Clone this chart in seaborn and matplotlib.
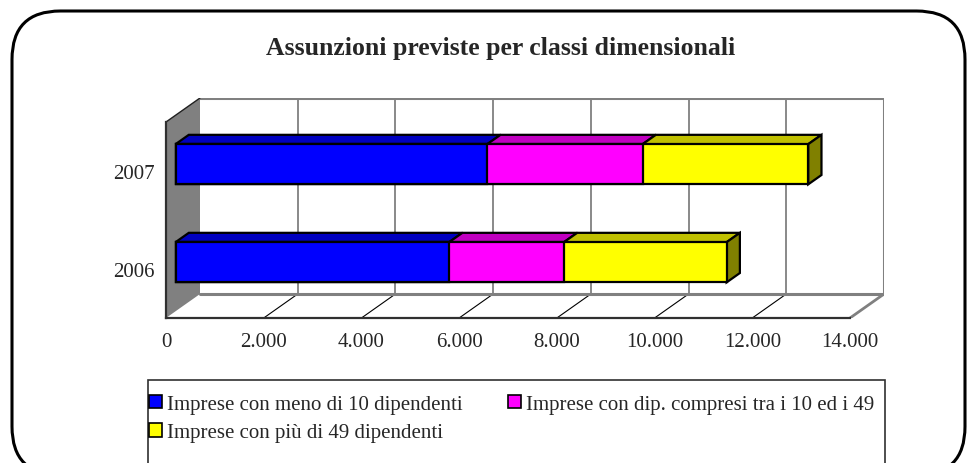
import numpy as np
import pandas as pd
import seaborn as sns
import matplotlib
matplotlib.use("Agg")
import matplotlib.pyplot as plt
from matplotlib.patches import Polygon, Rectangle, FancyBboxPatch, Patch
from matplotlib.transforms import ScaledTranslation

# ---------------- data ----------------
years = ["2007", "2006"]
series = ["Imprese con meno di 10 dipendenti",
          "Imprese con dip. compresi tra i 10 ed i 49",
          "Imprese con più di 49 dipendenti"]
small = [6380, 5600]
medium = [3180, 2350]
large = [3390, 3330]
xticks = [0, 2000, 4000, 6000, 8000, 10000, 12000, 14000]
xticklabels = ["0", "2.000", "4.000", "6.000", "8.000", "10.000", "12.000", "14.000"]
title = "Assunzioni previste per classi dimensionali"

front_colors = ["#0000FF", "#FF00FF", "#FFFF00"]
top_colors = ["#0000C0", "#C000C0", "#C0C000"]
side_color = "#808000"

sns.set_style("white")
plt.rcParams["font.family"] = ["Liberation Serif", "DejaVu Serif"]

W, H = 968, 464
fig = plt.figure(figsize=(W / 100, H / 100), dpi=100)


def fx(px):
    return px / W


def fy(py):
    return 1 - py / H


# outer rounded frame (behind everything)
frame = FancyBboxPatch((fx(12), fy(476)), fx(965) - fx(12), fy(12) - fy(476),
                       boxstyle="round,pad=0,rounding_size=0.05",
                       transform=fig.transFigure, facecolor="none",
                       edgecolor="black", linewidth=2.2, mutation_aspect=W / H,
                       zorder=-5)
fig.patches.append(frame)

# layout (pixels)
X0, X1 = 166, 850
YT, YB = 123, 319
DXP, DYP = 34, 24
xmax = 14000
px_per_x = (X1 - X0) / xmax
DX = DXP / px_per_x
cat_px = (YB - YT) / 2
DY = DYP / cat_px

ax = fig.add_axes([fx(X0), fy(YB), (X1 + DXP - X0) / W, (YB - (YT - DYP)) / H])
ax.patch.set_alpha(0)

# stacked bars (front faces) via seaborn, drawn as cumulative overlays
cum1 = np.array(small)
cum2 = cum1 + np.array(medium)
cum3 = cum2 + np.array(large)
df = pd.DataFrame({"year": years, "c1": cum1, "c2": cum2, "c3": cum3})

bar_w = 0.41
n_before = len(ax.patches)
for col, c in zip(["c3", "c2", "c1"], front_colors[::-1]):
    sns.barplot(data=df, x=col, y="year", orient="h", color=c, width=bar_w,
                edgecolor="black", linewidth=1.6, saturation=1, ax=ax, zorder=4)
bar_patches = ax.patches[n_before:]

ax.set_xlim(0, xmax + DX)
ax.set_ylim(1.5, -0.5 - DY)

# walls
gray = "#808080"
ax.add_patch(Polygon([(0, -0.5), (DX, -0.5 - DY), (DX, 1.5 - DY), (0, 1.5)],
                     closed=True, facecolor=gray, edgecolor="none", zorder=1))
ax.plot([0, DX], [-0.5, -0.5 - DY], color="#202020", lw=1.0, zorder=2)
ax.plot([DX, xmax + DX, xmax + DX], [-0.5 - DY, -0.5 - DY, 1.5 - DY],
        color=gray, lw=2.2, zorder=1.5, solid_capstyle="projecting")
ax.plot([DX, xmax + DX], [1.5 - DY, 1.5 - DY], color=gray, lw=2.2, zorder=1.5)
for t in xticks[1:-1]:
    ax.plot([t + DX, t + DX], [-0.5 - DY, 1.5 - DY], color=gray, lw=1.3, zorder=1.2)
for t in xticks[1:-1]:
    ax.plot([t, t + DX], [1.5, 1.5 - DY], color="black", lw=0.8, zorder=1.2)
ax.plot([xmax, xmax + DX], [1.5, 1.5 - DY], color=gray, lw=2.0, zorder=1.2)

# bar offset (bars sit inside the depth)
f_front = 0.28
f_depth = 0.39
off = ScaledTranslation(f_front * DXP / 100, f_front * DYP / 100, fig.dpi_scale_trans)
tr = ax.transData + off
for p in bar_patches:
    p.set_transform(tr)

bdx, bdy = f_depth * DX, f_depth * DY
starts = [np.zeros(2), cum1, cum2]
ends = [cum1, cum2, cum3]
for i in range(len(years)):
    ytop = i - bar_w / 2
    ybot = i + bar_w / 2
    for s in range(3):
        x0, x1 = starts[s][i], ends[s][i]
        ax.add_patch(Polygon([(x0, ytop), (x1, ytop), (x1 + bdx, ytop - bdy), (x0 + bdx, ytop - bdy)],
                             closed=True, facecolor=top_colors[s], edgecolor="black",
                             linewidth=1.6, joinstyle="miter", transform=tr, zorder=3.5))
    x1 = cum3[i]
    ax.add_patch(Polygon([(x1, ytop), (x1, ybot), (x1 + bdx, ybot - bdy), (x1 + bdx, ytop - bdy)],
                         closed=True, facecolor=side_color, edgecolor="black",
                         linewidth=1.6, joinstyle="miter", transform=tr, zorder=3.5))

# axes lines and ticks
for s in ["top", "right"]:
    ax.spines[s].set_visible(False)
ax.spines["bottom"].set_bounds(0, xmax)
ax.spines["left"].set_bounds(-0.5, 1.5)
for s in ["bottom", "left"]:
    ax.spines[s].set_color("#303030")
    ax.spines[s].set_linewidth(1.6)
    ax.spines[s].set_zorder(5)
ax.set_xticks(xticks)
ax.set_xticklabels(xticklabels)
ax.set_yticks([0, 1])
ax.set_yticklabels(years)
ax.set_yticks([-0.5, 0.5, 1.5], minor=True)
ax.tick_params(axis="x", direction="out", length=6, width=1.2, color="#303030",
               labelsize=15, pad=4)
ax.tick_params(axis="y", which="major", length=0, labelsize=15, pad=8)
ax.tick_params(axis="y", which="minor", direction="out", length=6, width=1.2, color="#303030")
ax.set_xlabel("")
ax.set_ylabel("")
ax.grid(False)

# title
fig.text(fx(501), fy(49), title, ha="center", va="center", fontsize=18.5,
         fontweight="bold")

# legend
fig.patches.append(Rectangle((fx(148), fy(480)), fx(885) - fx(148), fy(381) - fy(480),
                             transform=fig.transFigure, facecolor="white",
                             edgecolor="#303030", linewidth=1.2, zorder=-4))
handles = [Patch(facecolor=c, edgecolor="black", linewidth=1.2) for c in front_colors]
order = [0, 2, 1]
fig.legend([handles[k] for k in order], [series[k] for k in order],
           loc="upper left", bbox_to_anchor=(fx(149), fy(396)), ncol=2,
           frameon=False, fontsize=15, handlelength=0.6, handleheight=0.6,
           handletextpad=0.25, columnspacing=2.2, labelspacing=0.45,
           borderaxespad=0, borderpad=0)

fig.savefig("out.png", dpi=100)
